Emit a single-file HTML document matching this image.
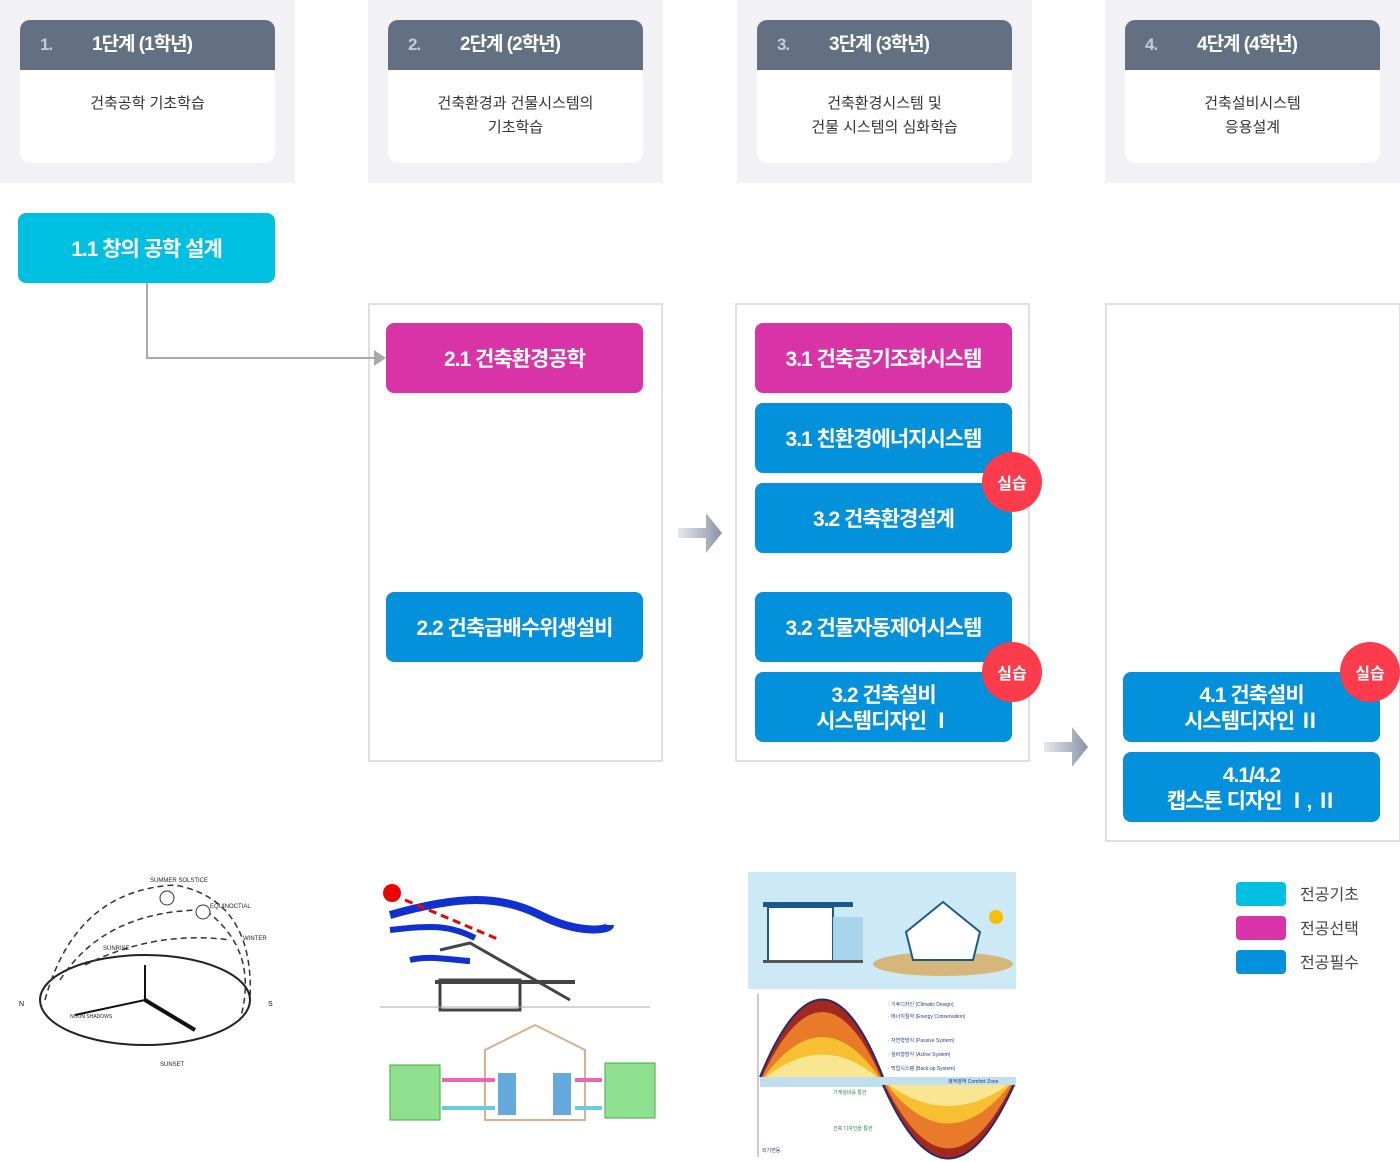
<!DOCTYPE html>
<html><head><meta charset="utf-8">
<style>
*{margin:0;padding:0;box-sizing:border-box}
body{width:1400px;height:1162px;background:#fff;position:relative;overflow:hidden;font-family:"Liberation Sans","Noto Sans CJK KR",sans-serif}
.a{position:absolute}
.bg{background:#f1f1f6;top:0;height:183px}
.card{background:#fff;border-radius:10px;top:20px;height:143px;width:255px;overflow:hidden}
.card .h{background:#627081;height:50px;color:#fff;font-weight:bold;font-size:19px;line-height:50px;position:relative;letter-spacing:-1px}
.card .h .n{position:absolute;left:20px;color:#c5cbd3;font-size:17px}
.card .h .t{position:absolute;left:72px}
.card .d{text-align:center;font-size:15px;color:#333;line-height:24px;padding-top:22px}
.frame{border:2px solid #e0e0e0}
.b{color:#fff;font-weight:bold;font-size:21px;letter-spacing:-1px;border-radius:8px;display:flex;align-items:center;justify-content:center;text-align:center;line-height:26px;width:257px;height:70px;padding-top:3px}
.m{background:#d933a8}.bl{background:#0391dc}.c{background:#00c0e2}
.badge{width:60px;height:60px;border-radius:50%;background:#fc3b4c;color:#fff;font-weight:bold;font-size:16px;display:flex;align-items:center;justify-content:center}
.lg{width:50px;height:24px;border-radius:4px}
.lt{font-size:16px;color:#444}
</style></head><body>
<div class="a bg" style="left:0;width:295px"></div>
<div class="a bg" style="left:368px;width:295px"></div>
<div class="a bg" style="left:737px;width:295px"></div>
<div class="a bg" style="left:1105px;width:295px"></div>

<div class="a card" style="left:20px"><div class="h"><span class="n">1.</span><span class="t">1단계 (1학년)</span></div><div class="d">건축공학 기초학습</div></div>
<div class="a card" style="left:388px"><div class="h"><span class="n">2.</span><span class="t">2단계 (2학년)</span></div><div class="d">건축환경과 건물시스템의<br>기초학습</div></div>
<div class="a card" style="left:757px"><div class="h"><span class="n">3.</span><span class="t">3단계 (3학년)</span></div><div class="d">건축환경시스템 및<br>건물 시스템의 심화학습</div></div>
<div class="a card" style="left:1125px"><div class="h"><span class="n">4.</span><span class="t">4단계 (4학년)</span></div><div class="d">건축설비시스템<br>응용설계</div></div>

<div class="a frame" style="left:368px;top:303px;width:295px;height:459px"></div>
<div class="a frame" style="left:735px;top:303px;width:295px;height:459px"></div>
<div class="a frame" style="left:1105px;top:303px;width:296px;height:539px"></div>

<div class="a b c" style="left:18px;top:213px">1.1 창의 공학 설계</div>
<svg class="a" style="left:0;top:0" width="1400" height="1162">
<polyline points="147,283 147,358 376,358" fill="none" stroke="#aaa" stroke-width="2"/>
<polygon points="374,350 386,358 374,366" fill="#aaa"/>
<defs><linearGradient id="g" x1="0" x2="1"><stop offset="0" stop-color="#e6e8ee"/><stop offset="1" stop-color="#8a93a6"/></linearGradient></defs>
<polygon points="678,528 706,528 706,513 722,533 706,553 706,538 678,538" fill="url(#g)"/>
<polygon points="1044,742 1072,742 1072,727 1088,747 1072,767 1072,752 1044,752" fill="url(#g)"/>
</svg>

<div class="a b m" style="left:386px;top:323px">2.1 건축환경공학</div>
<div class="a b bl" style="left:386px;top:592px">2.2 건축급배수위생설비</div>

<div class="a b m" style="left:755px;top:323px">3.1 건축공기조화시스템</div>
<div class="a b bl" style="left:755px;top:403px">3.1 친환경에너지시스템</div>
<div class="a b bl" style="left:755px;top:483px">3.2 건축환경설계</div>
<div class="a b bl" style="left:755px;top:592px">3.2 건물자동제어시스템</div>
<div class="a b bl" style="left:755px;top:672px">3.2 건축설비<br>시스템디자인 Ⅰ</div>
<div class="a b bl" style="left:1123px;top:672px">4.1 건축설비<br>시스템디자인 Ⅱ</div>
<div class="a b bl" style="left:1123px;top:752px">4.1/4.2<br>캡스톤 디자인 Ⅰ, Ⅱ</div>

<div class="a badge" style="left:982px;top:452px">실습</div>
<div class="a badge" style="left:982px;top:642px">실습</div>
<div class="a badge" style="left:1340px;top:642px">실습</div>

<div class="a lg c" style="left:1236px;top:882px"></div><div class="a lt" style="left:1300px;top:881px">전공기초</div>
<div class="a lg m" style="left:1236px;top:916px"></div><div class="a lt" style="left:1300px;top:915px">전공선택</div>
<div class="a lg bl" style="left:1236px;top:950px"></div><div class="a lt" style="left:1300px;top:949px">전공필수</div>

<!-- image 1: sun path -->
<svg class="a" style="left:15px;top:870px" width="265" height="200">
<ellipse cx="130" cy="130" rx="105" ry="45" fill="none" stroke="#222" stroke-width="2"/>
<path d="M30,130 Q60,20 160,15 Q240,30 235,130" fill="none" stroke="#333" stroke-dasharray="6,4" stroke-width="1.5"/>
<path d="M45,110 Q90,40 190,40 Q245,80 225,150" fill="none" stroke="#333" stroke-dasharray="6,4" stroke-width="1.5"/>
<path d="M70,95 Q140,60 215,70" fill="none" stroke="#333" stroke-dasharray="6,4" stroke-width="1.5"/>
<line x1="130" y1="130" x2="180" y2="160" stroke="#111" stroke-width="4"/>
<line x1="130" y1="130" x2="60" y2="145" stroke="#111" stroke-width="2"/>
<line x1="130" y1="130" x2="130" y2="95" stroke="#111" stroke-width="2"/>
<circle cx="152" cy="28" r="7" fill="#fff" stroke="#333"/><circle cx="188" cy="42" r="7" fill="#fff" stroke="#333"/>
<text x="135" y="12" font-size="6" fill="#222">SUMMER SOLSTICE</text>
<text x="195" y="38" font-size="6" fill="#222">EQUINOCTIAL</text>
<text x="228" y="70" font-size="6" fill="#222">WINTER</text>
<text x="88" y="80" font-size="6" fill="#222">SUNRISE</text>
<text x="55" y="148" font-size="5" fill="#222">NOON SHADOWS</text>
<text x="145" y="196" font-size="6" fill="#222">SUNSET</text>
<text x="4" y="136" font-size="7">N</text><text x="253" y="136" font-size="7">S</text>
</svg>

<!-- image 2 -->
<svg class="a" style="left:380px;top:875px" width="280" height="250">
<circle cx="12" cy="18" r="9" fill="#e00"/>
<path d="M10,40 C80,20 120,20 160,40 S230,55 230,50" fill="none" stroke="#1030d0" stroke-width="8"/>
<path d="M10,55 C50,50 70,50 95,63" fill="none" stroke="#1030d0" stroke-width="6"/>
<path d="M30,85 C50,80 70,85 90,86" fill="none" stroke="#1030d0" stroke-width="6"/>
<line x1="25" y1="25" x2="120" y2="65" stroke="#e00" stroke-width="3" stroke-dasharray="8,5"/>
<polyline points="60,75 90,68 190,125" fill="none" stroke="#444" stroke-width="3"/>
<rect x="55" y="105" width="140" height="4" fill="#444"/>
<rect x="60" y="105" width="80" height="30" fill="none" stroke="#444" stroke-width="3"/>
<line x1="0" y1="132" x2="270" y2="132" stroke="#aaa"/>
<polygon points="105,175 155,150 205,175 205,245 105,245" fill="none" stroke="#d8b090" stroke-width="2"/>
<rect x="10" y="190" width="50" height="55" fill="#8fe08f" stroke="#4a4"/>
<rect x="225" y="188" width="50" height="55" fill="#8fe08f" stroke="#4a4"/>
<rect x="118" y="198" width="18" height="42" fill="#6ad" /><rect x="173" y="198" width="18" height="42" fill="#6ad"/>
<line x1="62" y1="205" x2="115" y2="205" stroke="#e6a" stroke-width="4"/><line x1="62" y1="233" x2="115" y2="233" stroke="#6cd" stroke-width="4"/>
<line x1="195" y1="205" x2="222" y2="205" stroke="#e6a" stroke-width="4"/><line x1="195" y1="233" x2="222" y2="233" stroke="#6cd" stroke-width="4"/>
</svg>

<!-- image 3 -->
<svg class="a" style="left:748px;top:872px" width="270" height="290">
<rect x="0" y="0" width="268" height="117" fill="#cde9f5"/>
<rect x="20" y="35" width="65" height="55" fill="#fff" stroke="#1a5a8a" stroke-width="2"/>
<rect x="85" y="45" width="30" height="45" fill="#a8d4ec"/>
<rect x="15" y="30" width="90" height="5" fill="#1a5a8a"/>
<rect x="15" y="88" width="100" height="3" fill="#555"/>
<ellipse cx="195" cy="92" rx="70" ry="12" fill="#d6b67a"/>
<polygon points="158,60 195,30 232,60 225,88 165,88" fill="#fff" stroke="#1a5a8a" stroke-width="2"/>
<circle cx="248" cy="45" r="7" fill="#f6c000"/>
<line x1="10" y1="122" x2="10" y2="285" stroke="#999"/>
<path d="M12,205 Q75,50 135,205Z" fill="#a32820"/>
<path d="M14,205 Q75,75 133,205Z" fill="#e87a2a"/>
<path d="M16,205 Q75,125 131,205Z" fill="#f6c030"/>
<path d="M18,205 Q75,160 129,205Z" fill="#f9e690"/>
<path d="M12,205 Q75,50 135,205" fill="none" stroke="#2a2a6a" stroke-width="2"/>
<rect x="12" y="205" width="256" height="10" fill="#bfe0ec"/>
<path d="M135,213 Q200,360 266,213Z" fill="#a32820"/>
<path d="M137,213 Q200,340 264,213Z" fill="#e87a2a"/>
<path d="M139,213 Q200,290 262,213Z" fill="#f6c030"/>
<path d="M141,213 Q200,255 260,213Z" fill="#f9e690"/>
<path d="M135,213 Q200,360 266,213" fill="none" stroke="#2a2a6a" stroke-width="2"/>
<g font-size="5" fill="#2a3a8a"><text x="140" y="134">· 기후디자인 (Climatic Design)</text><text x="140" y="146">· 에너지절약 (Energy Conservation)</text><text x="140" y="170">· 자연형방식 (Passive System)</text><text x="140" y="184">· 설비형방식 (Active System)</text><text x="140" y="198">· 백업시스템 (Back-up System)</text><text x="200" y="211">쾌적영역 Comfort Zone</text><text x="14" y="280">외기변동</text></g>
<g font-size="5" fill="#2a8a3a"><text x="85" y="222">기계설비를 통한</text><text x="85" y="258">건축 디자인을 통한</text></g>
</svg>
</body></html>
